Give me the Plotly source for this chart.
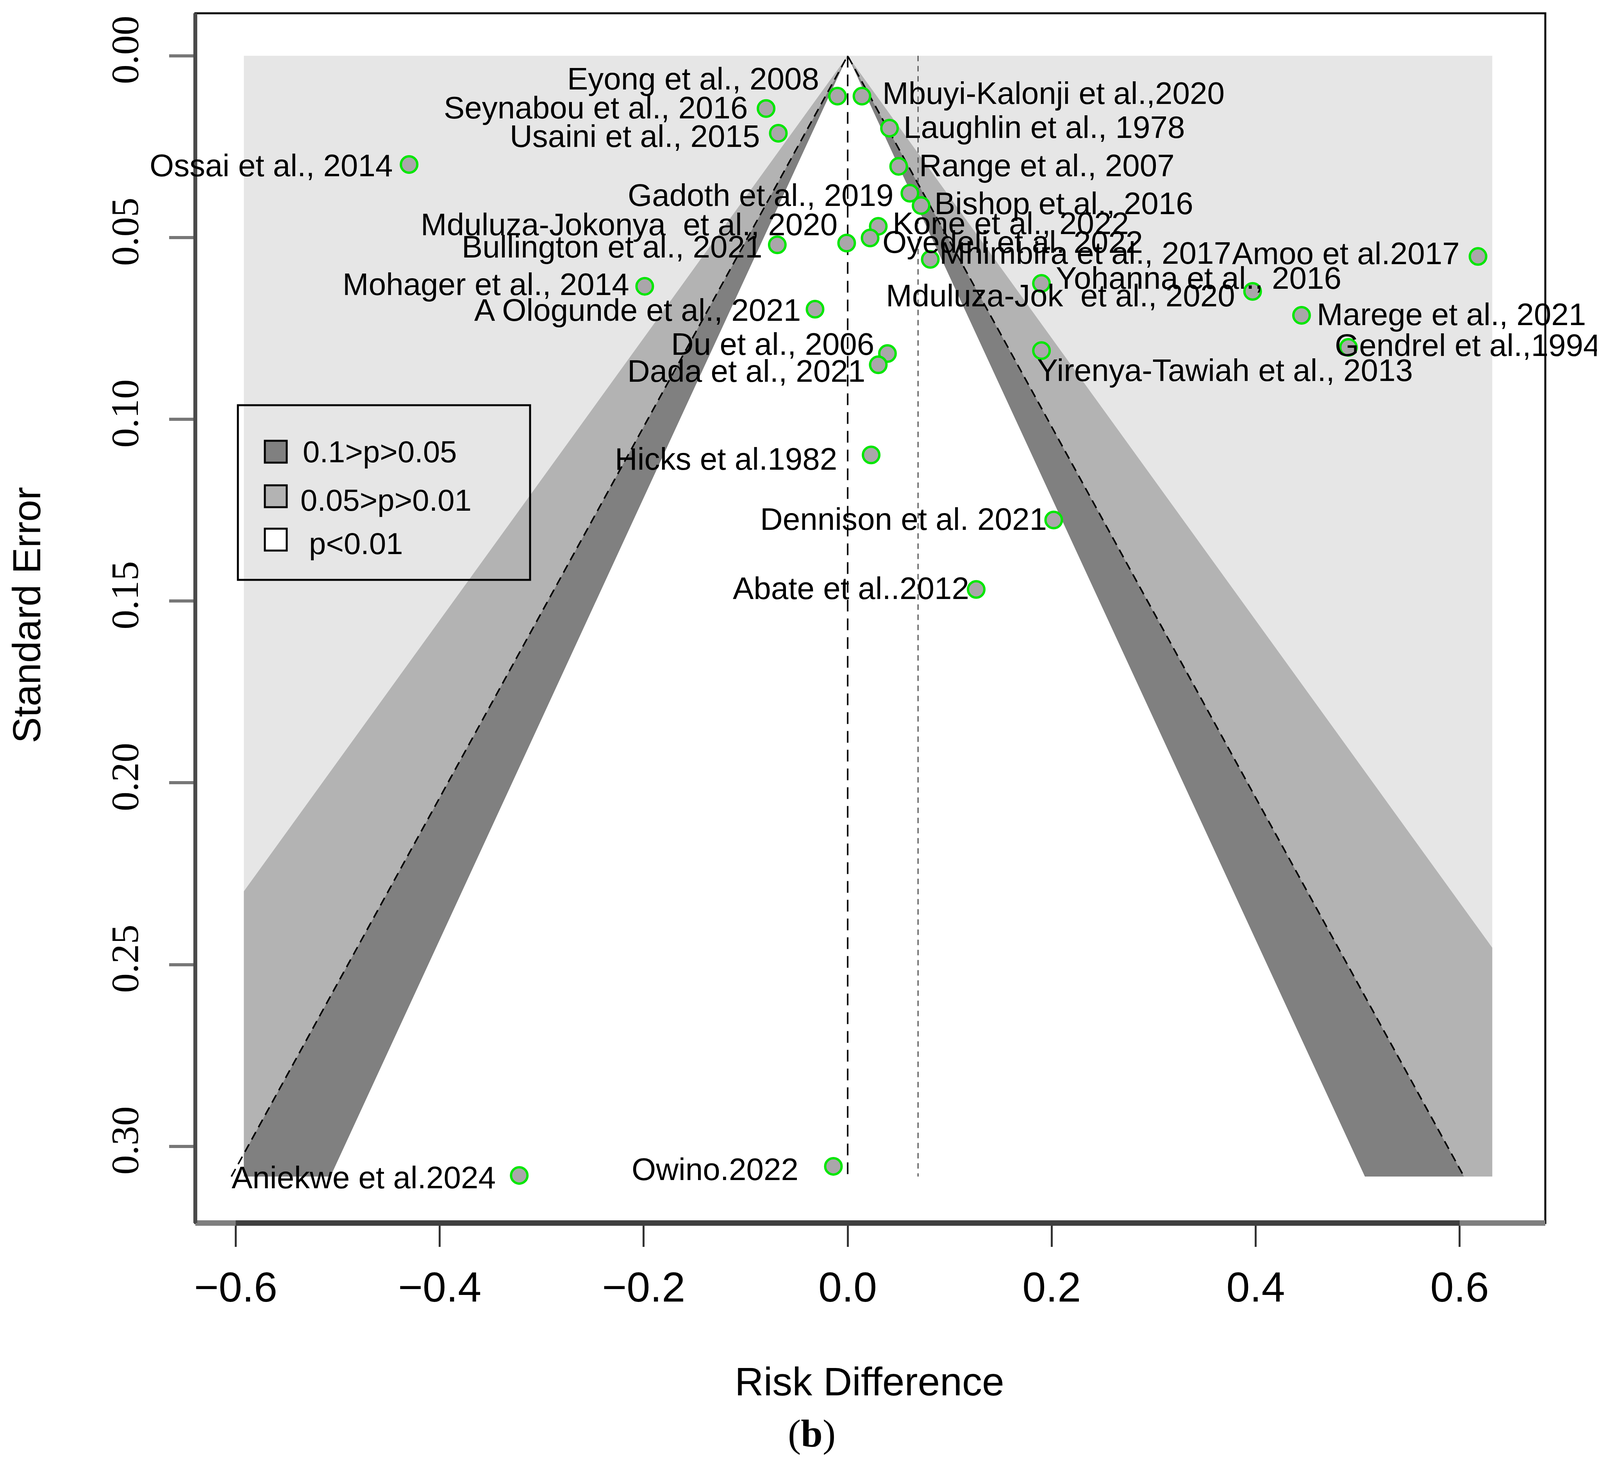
from statistics import NormalDist
import plotly.graph_objects as go


# --- Study data ---
studies = [
    "Eyong et al., 2008", "Mbuyi-Kalonji et al.,2020", "Seynabou et al., 2016",
    "Usaini et al., 2015", "Laughlin et al., 1978", "Ossai et al., 2014",
    "Range et al., 2007", "Gadoth et al., 2019", "Bishop et al., 2016",
    "Kone et al., 2022", "Oyedeli et al. 2022", "Mduluza-Jokonya  et al., 2020",
    "Bullington et al., 2021", "Mhimbira et al., 2017", "Amoo et al.2017",
    "Mohager et al., 2014", "Yohanna et al., 2016", "Mduluza-Jok  et al., 2020",
    "A Ologunde et al., 2021", "Marege et al., 2021", "Gendrel et al.,1994",
    "Du et al., 2006", "Yirenya-Tawiah et al., 2013", "Dada et al., 2021",
    "Hicks et al.1982", "Dennison et al. 2021", "Abate et al..2012",
    "Aniekwe et al.2024", "Owino.2022",
]
risk_diff = [
    -0.010, 0.014, -0.080, -0.068, 0.041, -0.430, 0.050, 0.061, 0.072,
    0.030, 0.022, -0.001, -0.069, 0.081, 0.618, -0.199, 0.190, 0.397,
    -0.032, 0.445, 0.491, 0.039, 0.190, 0.030, 0.023, 0.202, 0.126,
    -0.322, -0.014,
]
std_err = [
    0.0111, 0.0111, 0.0145, 0.0213, 0.0199, 0.0299, 0.0304, 0.0378, 0.0412,
    0.0469, 0.0501, 0.0515, 0.0520, 0.0560, 0.0552, 0.0634, 0.0626, 0.0648,
    0.0697, 0.0714, 0.0802, 0.0819, 0.0811, 0.0850, 0.1098, 0.1277, 0.1468,
    0.3080, 0.3055,
]

pooled_rd = 0.069
contour_p = [0.01, 0.05, 0.10]
contour_names = ["p<0.01", "0.05>p>0.01", "0.1>p>0.05"]
x_ticks = [-0.6, -0.4, -0.2, 0.0, 0.2, 0.4, 0.6]
y_ticks = [0.00, 0.05, 0.10, 0.15, 0.20, 0.25, 0.30]
shade_xlim = [-0.592, 0.632]
se_max = 0.3083

# --- Label placement: side of the point and nudge (px) ---
LABEL_SIDE = ["L", "R", "L", "L", "R", "L", "R", "L", "R", "R", "R", "L", "L", "R", "L",
              "L", "R", "L", "L", "R", "R", "L", "R", "L", "L", "L", "L", "L", "L"]
LABEL_GAP = [17, 19, 17, 17, 13, 15, 19, 15, 12, 13, 11, 8, 14, 8, 17,
             14, 13, 16, 13, 14, -14, 12, -5, 12, 32, 6, 6, 22, 33]
LABEL_DY = [-17, -3, -1, 3, -1, 1, -1, 2, -2, -3, 4, -18, 2, -6, -3,
            -2, -5, 4, 1, -1, -2, -9, 19, 6, 4, -1, -1, 2, 3]
SCALE = 2.646  # measured offsets were taken on a 1568 px wide view

# --- Canvas geometry (px) ---
W, H = 4149, 3739
PLOT_L, PLOT_R, PLOT_T, PLOT_B = 492, 3948, 26, 3122
X_RANGE = [-0.6396, 0.684]
Y_RANGE = [0.3211, -0.0117]

SHADES = {"p<0.01": "#e6e6e6", "0.05>p>0.01": "#b3b3b3", "0.1>p>0.05": "#808080"}


def px_x(x):
    return (x - PLOT_L) / (PLOT_R - PLOT_L)


def px_y(y):
    return 1 - (y - PLOT_T) / (PLOT_B - PLOT_T)


def funnel_polygon(z):
    xmin, xmax = shade_xlim
    xs, ys = [0.0], [0.0]
    if z * se_max > -xmin:
        xs += [xmin, xmin]
        ys += [-xmin / z, se_max]
    else:
        xs.append(-z * se_max)
        ys.append(se_max)
    if z * se_max > xmax:
        xs += [xmax, xmax]
        ys += [se_max, xmax / z]
    else:
        xs.append(z * se_max)
        ys.append(se_max)
    xs.append(0.0)
    ys.append(0.0)
    return xs, ys


fig = go.Figure()

# --- Contour shading (outer region first) ---
fig.add_trace(go.Scatter(
    x=[shade_xlim[0], shade_xlim[1], shade_xlim[1], shade_xlim[0], shade_xlim[0]],
    y=[0, 0, se_max, se_max, 0],
    fill="toself", fillcolor=SHADES["p<0.01"], line=dict(width=0),
    mode="lines", hoverinfo="skip", showlegend=False,
))
z_levels = [NormalDist().inv_cdf(1 - p / 2) for p in contour_p]
inner_colors = [SHADES["0.05>p>0.01"], SHADES["0.1>p>0.05"], "white"]
for z, color in zip(z_levels, inner_colors):
    xs, ys = funnel_polygon(z)
    fig.add_trace(go.Scatter(
        x=xs, y=ys, fill="toself", fillcolor=color, line=dict(width=0),
        mode="lines", hoverinfo="skip", showlegend=False,
    ))

# --- Reference lines ---
z95 = NormalDist().inv_cdf(0.975)
fig.add_trace(go.Scatter(
    x=[-z95 * se_max, 0, z95 * se_max], y=[se_max, 0, se_max],
    mode="lines", line=dict(color="black", width=4, dash="22px,14px"),
    hoverinfo="skip", showlegend=False,
))
fig.add_trace(go.Scatter(
    x=[0, 0], y=[0, se_max],
    mode="lines", line=dict(color="black", width=4, dash="30px,18px"),
    hoverinfo="skip", showlegend=False,
))
fig.add_trace(go.Scatter(
    x=[pooled_rd, pooled_rd], y=[0, se_max],
    mode="lines", line=dict(color="#555555", width=3, dash="14px,12px"),
    hoverinfo="skip", showlegend=False,
))

# --- Studies ---
fig.add_trace(go.Scatter(
    x=risk_diff, y=std_err, mode="markers", text=studies,
    marker=dict(size=42, color="#aaa6aa", line=dict(color="#00e600", width=6)),
    showlegend=False,
))

annotations = []
for name, x, y, side, gap, dy in zip(studies, risk_diff, std_err, LABEL_SIDE, LABEL_GAP, LABEL_DY):
    annotations.append(dict(
        x=x, y=y, xref="x", yref="y", text=name, showarrow=False,
        xanchor="right" if side == "L" else "left", yanchor="middle",
        xshift=(-gap if side == "L" else gap) * SCALE, yshift=-dy * SCALE,
        font=dict(family="Liberation Sans", size=80, color="black"),
    ))

# --- Axis titles and panel caption ---
annotations.append(dict(
    x=px_x(2218), y=px_y(3528), xref="paper", yref="paper", text="Risk Difference",
    showarrow=False, xanchor="center", yanchor="middle",
    font=dict(family="Liberation Sans", size=102, color="black"),
))
annotations.append(dict(
    x=px_x(60), y=px_y(1566), xref="paper", yref="paper", text="Standard Error",
    showarrow=False, xanchor="center", yanchor="middle", textangle=-90,
    font=dict(family="Liberation Sans", size=100, color="black"),
))
annotations.append(dict(
    x=px_x(2070), y=px_y(3660), xref="paper", yref="paper", text="(<b>b</b>)",
    showarrow=False, xanchor="center", yanchor="middle",
    font=dict(family="Liberation Serif", size=100, color="black"),
))

# --- Legend (drawn by hand so it can sit inside the panel) ---
shapes = [
    dict(type="rect", xref="paper", yref="paper", x0=px_x(601), x1=px_x(1349),
         y0=px_y(1476), y1=px_y(1029), line=dict(color="black", width=5),
         fillcolor="rgba(0,0,0,0)"),
]
legend_rows = [("0.1>p>0.05", 1148, 765), ("0.05>p>0.01", 1262, 759), ("p<0.01", 1373, 781)]
legend_fill = ["#808080", "#b3b3b3", "white"]
for (label, yc, xt), fill in zip(legend_rows, legend_fill):
    shapes.append(dict(
        type="rect", xref="paper", yref="paper", x0=px_x(670), x1=px_x(726),
        y0=px_y(yc + 28), y1=px_y(yc - 28), line=dict(color="black", width=5),
        fillcolor=fill,
    ))
    annotations.append(dict(
        x=px_x(xt), y=px_y(yc + (10 if label != "0.1>p>0.05" else 0)), xref="paper", yref="paper",
        text=label, showarrow=False, xanchor="left", yanchor="middle",
        font=dict(family="Liberation Sans", size=78, color="black"),
    ))

# --- Frame: thin black box, heavier bottom/left axes like base R ---
shapes += [
    dict(type="rect", xref="paper", yref="paper", x0=0, x1=1, y0=0, y1=1,
         line=dict(color="black", width=5), layer="above"),
    dict(type="line", xref="paper", yref="paper", x0=0, x1=1, y0=0, y1=0,
         line=dict(color="#7f7f7f", width=14), layer="above"),
    dict(type="line", xref="x", yref="paper", x0=x_ticks[0], x1=x_ticks[-1], y0=0, y1=0,
         line=dict(color="#3f3f3f", width=14), layer="above"),
    dict(type="line", xref="paper", yref="paper", x0=0, x1=0, y0=0, y1=1,
         line=dict(color="#4a4a4a", width=10), layer="above"),
]

fig.update_layout(
    width=W, height=H, autosize=False,
    margin=dict(l=PLOT_L, r=W - PLOT_R, t=PLOT_T, b=H - PLOT_B, pad=0),
    paper_bgcolor="white", plot_bgcolor="white",
    showlegend=False,
    annotations=annotations,
    shapes=shapes,
)
fig.update_xaxes(
    range=X_RANGE, tickvals=x_ticks, tickformat=".1f",
    showgrid=False, zeroline=False, showline=False,
    ticks="outside", ticklen=60, tickwidth=5, tickcolor="#333333",
    ticklabelstandoff=10,
    tickfont=dict(family="Liberation Sans", size=108, color="black"),
)
fig.update_yaxes(
    range=Y_RANGE, tickvals=y_ticks, tickformat=".2f", tickangle=-90,
    showgrid=False, zeroline=False, showline=False,
    ticks="outside", ticklen=66, tickwidth=8, tickcolor="#777777",
    ticklabelstandoff=40,
    tickfont=dict(family="Liberation Sans Narrow", size=100, color="black"),
)

fig.write_html("out.html")
